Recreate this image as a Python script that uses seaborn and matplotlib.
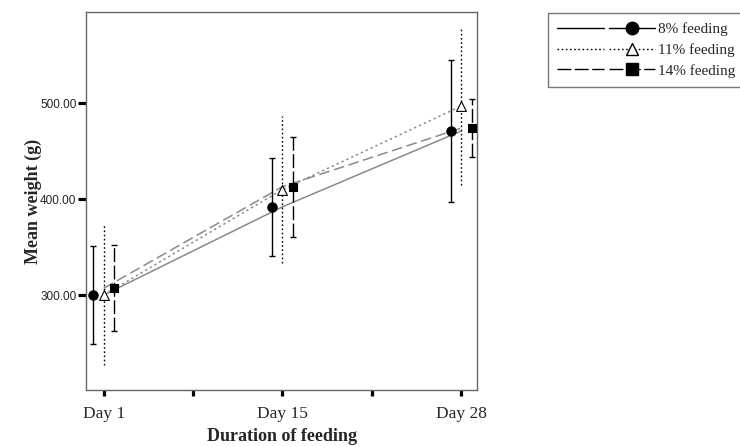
import numpy as np
import pandas as pd
import matplotlib
matplotlib.use("Agg")
import matplotlib.pyplot as plt
import seaborn as sns
from matplotlib.lines import Line2D
from matplotlib.legend_handler import HandlerTuple

days = ["Day 1", "Day 15", "Day 28"]
groups = ["8% feeding", "11% feeding", "14% feeding"]
mean_8 = [300, 392, 471]
err_8 = [51, 51, 74]
mean_11 = [300, 410, 497]
err_11 = [73, 77, 82]
mean_14 = [307, 413, 474]
err_14 = [45, 52, 30]
yticks = [300, 400, 500]

means = [mean_8, mean_11, mean_14]
errs = [err_8, err_11, err_14]
markers = ["o", "^", "s"]
mfaces = ["black", "white", "black"]
msizes = [45, 50, 40]
styles = ["-", (0, (1.2, 1.8)), (0, (10, 2.5))]
capsizes = [2.3, 0, 2.0]
offsets = [-0.058, 0.0, 0.06]

rows = []
for g, m, e in zip(groups, means, errs):
    for i, d in enumerate(days):
        rows.append({"group": g, "day": d, "x": i, "mean": m[i], "err": e[i]})
df = pd.DataFrame(rows)

sns.set_theme(style="white")
plt.rcParams["font.family"] = ["Liberation Serif", "DejaVu Serif"]

fig = plt.figure(figsize=(7.4, 4.47), dpi=100)
ax = fig.add_axes([0.116, 0.1275, 0.529, 0.8455])

# connecting lines at category centres (grey)
sns.lineplot(data=df, x="x", y="mean", hue="group", style="group",
             palette=["#8a8a8a"] * 3,
             dashes={groups[0]: "", groups[1]: (1.5, 2), groups[2]: (7, 3)},
             linewidth=1.1, legend=False, ax=ax, markers=False)

for k, g in enumerate(groups):
    sub = df[df["group"] == g].copy()
    sub["xd"] = sub["x"] + offsets[k]
    eb = ax.errorbar(sub["xd"], sub["mean"], yerr=sub["err"], fmt="none",
                     ecolor="black", elinewidth=1.0, capsize=capsizes[k],
                     capthick=1.0, zorder=3)
    eb[2][0].set_linestyle(styles[k])
    sns.scatterplot(data=sub, x="xd", y="mean", marker=markers[k],
                    color=mfaces[k], edgecolor="black", linewidth=0.8,
                    s=msizes[k], ax=ax, zorder=4, legend=False)

ax.set_xlim(-0.1, 2.09)
ax.set_ylim(201, 595)
ax.set_xticks([0, 0.5, 1, 1.5, 2])
ax.set_xticklabels(["Day 1", "", "Day 15", "", "Day 28"], fontsize=12.5)
ax.set_yticks(yticks)
ax.set_yticklabels([f"{v:.2f}" for v in yticks], fontsize=8.5,
                   family=["Liberation Sans", "DejaVu Sans"], color="#222222")
ax.tick_params(axis="x", direction="out", length=4.5, width=2.3, color="black",
               bottom=True, pad=7)
ax.tick_params(axis="y", direction="out", length=5.8, width=2.3, color="black",
               left=True, pad=1)
for sp in ax.spines.values():
    sp.set_color("#666666")
    sp.set_linewidth(1.0)

ax.set_xlabel("Duration of feeding", fontsize=13, fontweight="bold", labelpad=4.5)
ax.set_ylabel("Mean weight (g)", fontsize=13, fontweight="bold", labelpad=-1.5)

handles = []
for k in range(3):
    plain = Line2D([0], [0], color="black", linestyle=styles[k], linewidth=1.0)
    withm = Line2D([0], [0], color="black", linestyle=styles[k], linewidth=1.0,
                   marker=markers[k], markerfacecolor=mfaces[k],
                   markeredgecolor="black", markersize=9 if k != 1 else 8.5)
    handles.append((plain, withm))
leg = fig.legend(handles, groups, loc="upper left", bbox_to_anchor=(0.7405, 0.971),
                 frameon=True, fancybox=False, handlelength=6.4,
                 borderpad=0.62, labelspacing=0.46, handletextpad=0.2,
                 borderaxespad=0,
                 handler_map={tuple: HandlerTuple(ndivide=None, pad=0.3)},
                 prop={"family": ["Liberation Serif"], "size": 11})
leg.get_frame().set_edgecolor("#555555")
leg.get_frame().set_linewidth(1.0)

fig.savefig("out.png", dpi=100)
